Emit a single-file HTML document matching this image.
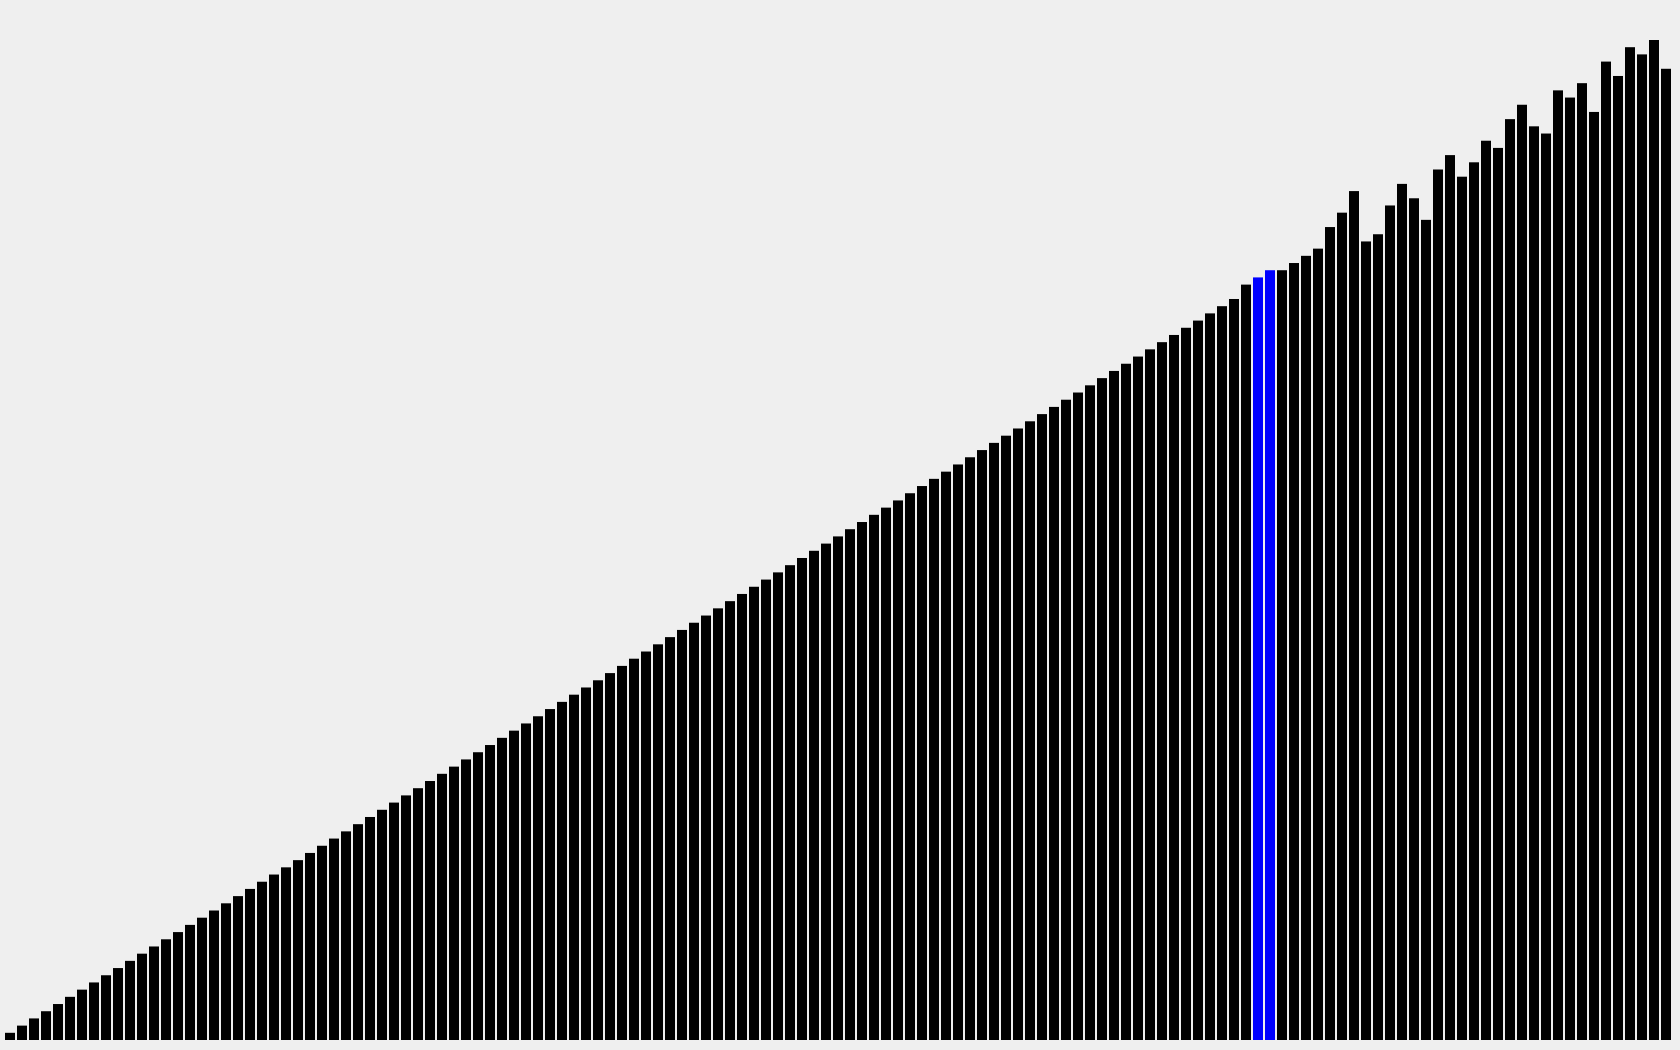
<!DOCTYPE html>
<html><head><meta charset="utf-8"><style>
html,body{margin:0;padding:0;background:#efefef;width:1680px;height:1050px;overflow:hidden}
</style></head><body>
<svg id="chart" width="1680" height="1050" xmlns="http://www.w3.org/2000/svg">
<rect x="0" y="0" width="1680" height="1050" fill="#efefef"/>
<g id="bars"></g>
</svg>
<script>
const sortedCount = 103;
const tailValues = [105,106,107,107,108,109,110,113,115,118,111,112,116,119,117,114,121,123,120,122,125,124,128,130,127,126,132,131,133,129,136,134,138,137,139,135];
const highlighted = [104,105];
const maxValue = 139;
const values = [];
for (let i = 0; i < sortedCount; i++) values.push(i + 1);
tailValues.forEach(v => values.push(v));

const x0 = 5, step = 12, barW = 10, baseY = 1040, plotH = 1000;
const xScale = i => x0 + i * step;
const yScale = v => v / maxValue * plotH;
const g = document.getElementById('bars');
values.forEach((v, i) => {
  const r = document.createElementNS('http://www.w3.org/2000/svg', 'rect');
  const h = yScale(v);
  r.setAttribute('x', xScale(i));
  r.setAttribute('y', baseY - h);
  r.setAttribute('width', barW);
  r.setAttribute('height', h);
  r.setAttribute('fill', highlighted.includes(i) ? '#0000ff' : '#000000');
  
  
  g.appendChild(r);
});
</script>
</body></html>
